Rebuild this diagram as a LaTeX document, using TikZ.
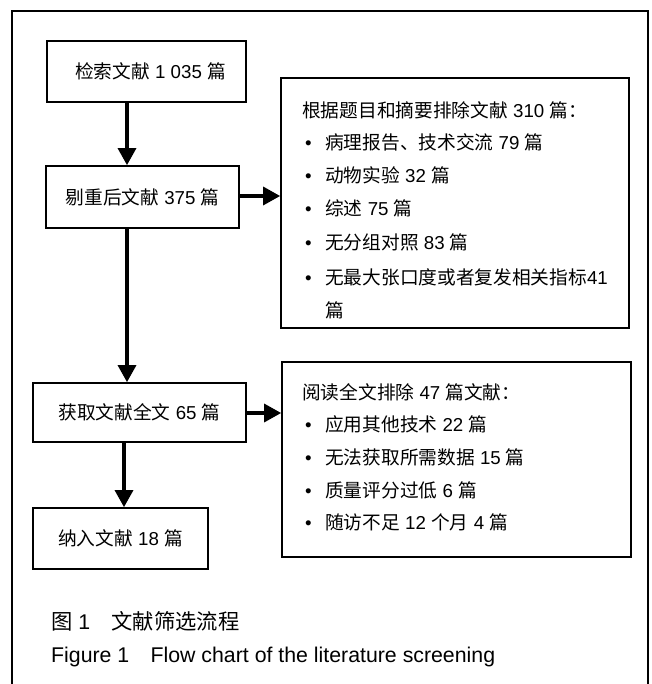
\documentclass[tikz,border=0pt]{standalone}
\usepackage{fontspec}
\setmainfont{Liberation Sans}
\newfontfamily\cjk{Noto Sans CJK SC}
\usetikzlibrary{arrows.meta}
\newcommand\zh[1]{{\cjk #1}}
\tikzset{
  box/.style={draw, line width=1.7pt, inner sep=0pt, font=\fontsize{18.7pt}{22pt}\selectfont},
  arr/.style={line width=3.2pt, -{Triangle[length=17pt,width=18pt]}},
  txt/.style={anchor=base west, inner sep=0pt, font=\fontsize{18.7pt}{22pt}\selectfont},
  captxt/.style={anchor=base west, inner sep=0pt, font=\fontsize{21.3pt}{25pt}\selectfont},
  frame/.style={line width=1.7pt}
}
\newcommand\bul{\makebox[20pt][l]{•}}
\begin{document}
\begin{tikzpicture}[x=1pt,y=-1pt]
\useasboundingbox (0,0) rectangle (651,684);
\draw[frame] (12,684) -- (12,11) -- (648,11) -- (648,684);
% left column boxes
\node[box, minimum width=199pt, minimum height=61pt] (b1) at (146.5,71.5) {\hspace{8pt}\zh{检索文献} 1 035 \zh{篇}};
\node[box, minimum width=193pt, minimum height=62pt] (b2) at (142.5,197) {\zh{剔重后文献} 375 \zh{篇}};
\node[box, minimum width=213pt, minimum height=59pt] (b3) at (139.5,412.5) {\zh{获取文献全文} 65 \zh{篇}\hspace{6pt}};
\node[box, minimum width=175pt, minimum height=61pt] (b4) at (120.5,538.5) {\zh{纳入文献} 18 \zh{篇}\hspace{6pt}};
% right boxes
\node[box, minimum width=348pt, minimum height=250pt] (r1) at (455,203) {};
\node[box, minimum width=349pt, minimum height=195pt] (r2) at (456.5,459.5) {};
% right box 1 text
\node[txt] (r1h) at (302,118) {\zh{根据题目和摘要排除文献} 310 \zh{篇：}};
\node[txt] (r1a) at (305,150) {\bul\zh{病理报告、技术交流} 79 \zh{篇}};
\node[txt] (r1b) at (305,183) {\bul\zh{动物实验} 32 \zh{篇}};
\node[txt] (r1c) at (305,216) {\bul\zh{综述} 75 \zh{篇}};
\node[txt] (r1d) at (305,250) {\bul\zh{无分组对照} 83 \zh{篇}};
\node[txt] (r1e) at (305,284) {\bul\zh{无最大张口度或者复发相关指标}41};
\node[txt] (r1f) at (325,317) {\zh{篇}};
% right box 2 text
\node[txt] (r2h) at (302,399) {\zh{阅读全文排除} 47 \zh{篇文献：}};
\node[txt] (r2a) at (305,431) {\bul\zh{应用其他技术} 22 \zh{篇}};
\node[txt] (r2b) at (305,464) {\bul\zh{无法获取所需数据} 15 \zh{篇}};
\node[txt] (r2c) at (305,497) {\bul\zh{质量评分过低} 6 \zh{篇}};
\node[txt] (r2d) at (305,529) {\bul\zh{随访不足} 12 \zh{个月} 4 \zh{篇}};
% arrows
\draw[arr] (127,0 |- b1.south) -- (127,0 |- b2.north);
\draw[arr] (127,0 |- b2.south) -- (127,0 |- b3.north);
\draw[arr] (124,0 |- b3.south) -- (124,0 |- b4.north);
\draw[arr] (b2.east |- 0,196) -- (r1.west |- 0,196);
\draw[arr] (b3.east |- 0,413) -- (r2.west |- 0,413);
% caption
\node[captxt] (c1) at (51,629) {\zh{图} 1\zh{　文献筛选流程}};
\node[captxt] (c2) at (51,662) {Figure 1\hspace{1em}Flow chart of the literature screening};
\end{tikzpicture}
\end{document}
